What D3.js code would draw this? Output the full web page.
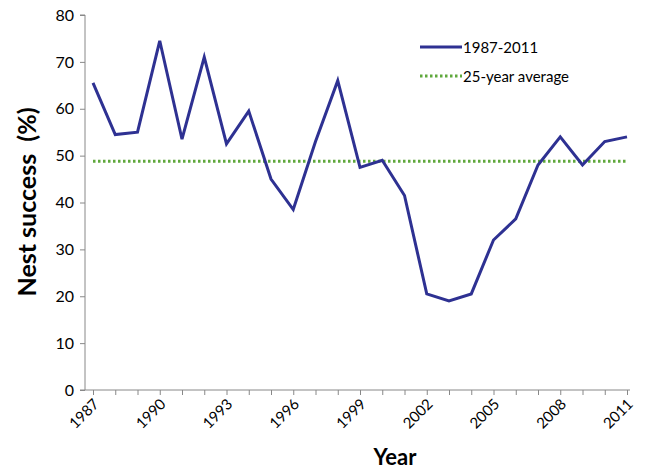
<!DOCTYPE html>
<html><head><meta charset="utf-8">
<script src="https://cdn.jsdelivr.net/npm/d3@7"></script>
<style>body{margin:0;background:#fff}text{font-family:Lato,"Open Sans",sans-serif}</style>
</head><body><svg id="c" width="647" height="470"></svg>
<script>
const years = d3.range(1987, 2012);
const success = [65.5,54.5,55,74.5,53.5,71,52.5,59.5,45,38.5,53,66,47.5,49,41.5,20.5,19,20.5,32,36.5,48,54,48,53,54];
const average = 48.8;
const yTicks = [0,10,20,30,40,50,60,70,80];
const xLabels = [1987,1990,1993,1996,1999,2002,2005,2008,2011];

const svg = d3.select("#c");
const x = d3.scaleLinear().domain([1987, 2011]).range([93, 627]);
const y = d3.scaleLinear().domain([0, 80]).range([390, 15]);

// Y axis
const ya = svg.append("g").attr("transform", "translate(85,0)")
  .call(d3.axisLeft(y).tickValues(yTicks).tickSize(5).tickPadding(6));
ya.select(".domain").attr("stroke", "#888").attr("d", "M-5,390H0V15H-5");
ya.selectAll(".tick line").attr("stroke", "#888");
ya.selectAll("text").attr("font-size", 16).attr("fill", "#000");
// X axis
const xa = svg.append("g").attr("transform", "translate(0,390)")
  .call(d3.axisBottom(x).tickValues(years).tickSize(5).tickFormat(""));
xa.select(".domain").attr("stroke", "#888").attr("d", "M85,0H630");
xa.selectAll(".tick line").attr("stroke", "#888");
svg.append("g").selectAll("text").data(xLabels).join("text")
  .attr("transform", d => `translate(${x(d)+7},${405}) rotate(-45)`)
  .attr("text-anchor", "end").attr("font-size", 15).text(d => d);

// Average
svg.append("line").attr("x1", x(1987)).attr("x2", x(2011))
  .attr("y1", y(average)).attr("y2", y(average))
  .attr("stroke", "#5fa83c").attr("stroke-width", 3).attr("stroke-dasharray", "2.5,2.5");
// Series
svg.append("path").datum(success)
  .attr("d", d3.line().x((d, i) => x(years[i])).y(d => y(d)))
  .attr("fill", "none").attr("stroke", "#2e3192").attr("stroke-width", 3);

// Legend
svg.append("line").attr("x1", 420).attr("x2", 462).attr("y1", 47).attr("y2", 47)
  .attr("stroke", "#2e3192").attr("stroke-width", 3);
svg.append("text").attr("x", 463).attr("y", 53).attr("font-size", 15).text("1987-2011");
svg.append("line").attr("x1", 420).attr("x2", 462).attr("y1", 76).attr("y2", 76)
  .attr("stroke", "#5fa83c").attr("stroke-width", 3).attr("stroke-dasharray", "2.5,2.5");
svg.append("text").attr("x", 463).attr("y", 82).attr("font-size", 15).text("25-year average");

// Titles
svg.append("text").attr("x", 395).attr("y", 465).attr("text-anchor", "middle")
  .attr("font-size", 22).attr("font-weight", "bold").text("Year");
svg.append("text").attr("transform", "translate(36,202) rotate(-90)").attr("text-anchor", "middle")
  .attr("font-size", 25).attr("font-weight", "bold").attr("xml:space", "preserve").text("Nest success  (%)");
</script></body></html>
